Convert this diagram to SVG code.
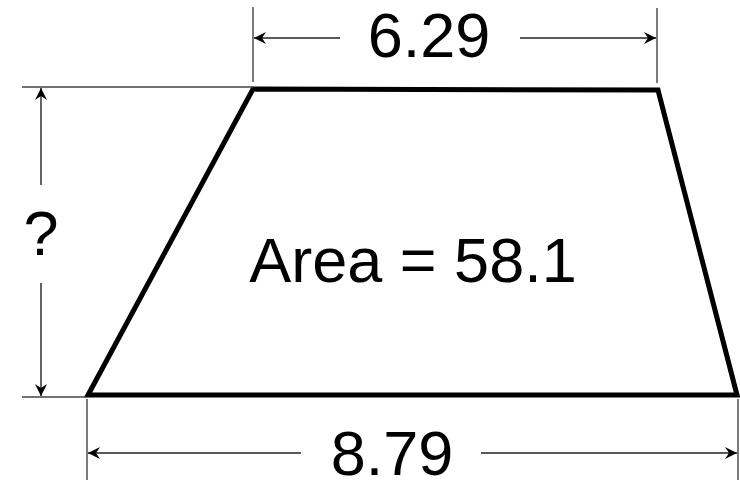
<svg xmlns="http://www.w3.org/2000/svg" width="740" height="480" viewBox="0 0 740 480">
<defs>
<style>
.ext{stroke:#444;stroke-width:1.4;fill:none}
.dim{stroke:#222;stroke-width:1.4;fill:none;marker-end:url(#ah)}
.lbl{font-family:"Liberation Sans",Arial,sans-serif;font-size:63px;fill:#000;text-anchor:middle}
.shape{fill:#fff;stroke:#000;stroke-width:5;stroke-linejoin:miter}
</style>
<marker id="ah" viewBox="-12 -7 13 14" refX="0" refY="0" markerWidth="13" markerHeight="14" markerUnits="userSpaceOnUse" orient="auto">
<path d="M0,0 L-12,-6 L-8,0 L-12,6 Z" fill="#000"/>
</marker>
</defs>
<rect width="740" height="480" fill="#fff"/>
<g id="trapezoid">
<polygon class="shape" points="253,89 658,90 737,395 88,395"/>
<text class="lbl" x="413" y="282">Area = 58.1</text>
</g>
<g id="connectors">
<line class="ext" x1="253" y1="7" x2="253" y2="82"/>
<line class="ext" x1="657" y1="8" x2="657" y2="83"/>
<line class="dim" x1="340" y1="38" x2="254" y2="38"/>
<line class="dim" x1="520" y1="38" x2="656" y2="38"/>
<line class="ext" x1="22" y1="87" x2="253" y2="87"/>
<line class="ext" x1="22" y1="397" x2="86" y2="397"/>
<line class="dim" x1="41" y1="185" x2="41" y2="88"/>
<line class="dim" x1="41" y1="283" x2="41" y2="396"/>
<line class="ext" x1="87" y1="399" x2="87" y2="480"/>
<line class="ext" x1="738" y1="399" x2="738" y2="480"/>
<line class="dim" x1="301" y1="453" x2="88" y2="453"/>
<line class="dim" x1="481" y1="453" x2="737" y2="453"/>
</g>
<g id="label-top"><text class="lbl" x="429" y="57">6.29</text></g>
<g id="label-left"><text class="lbl" x="41" y="255">?</text></g>
<g id="label-bottom"><text class="lbl" x="392" y="475">8.79</text></g>
</svg>
